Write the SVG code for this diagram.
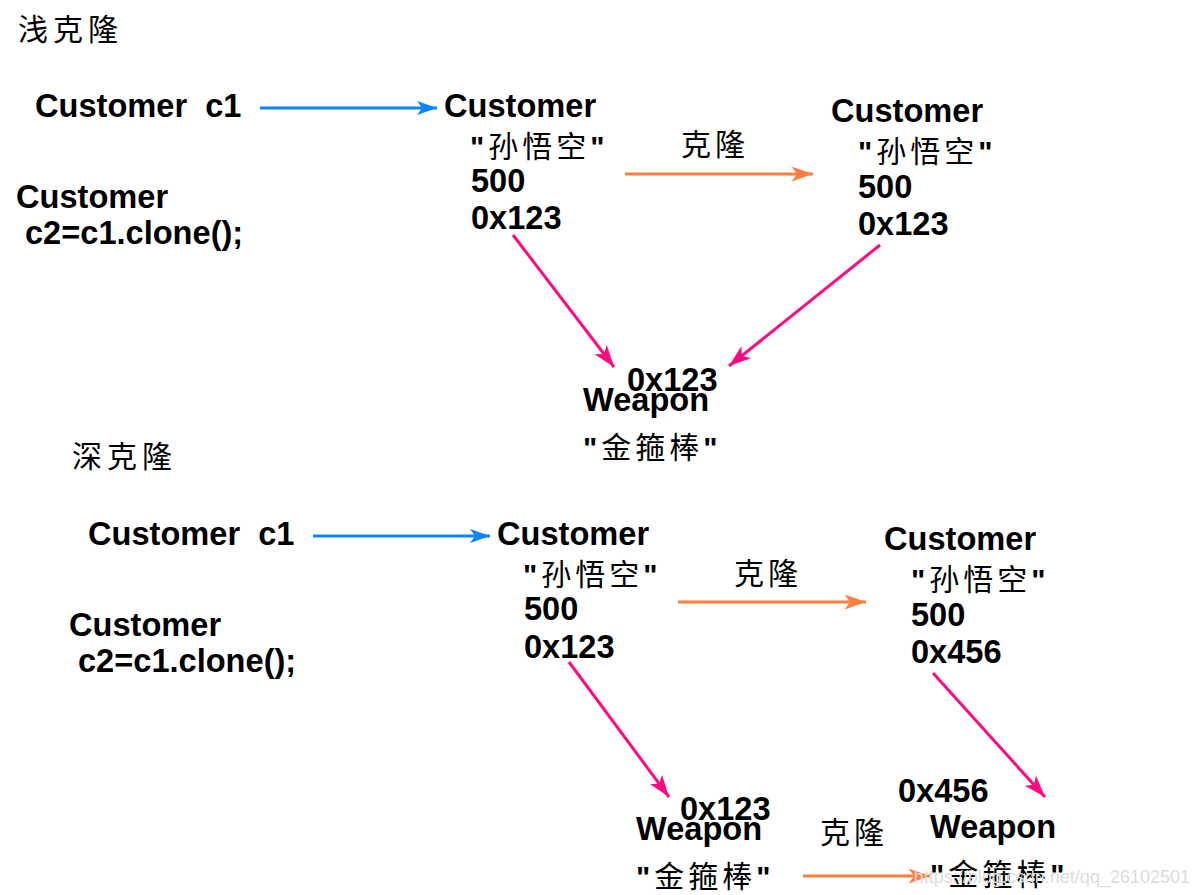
<svg xmlns="http://www.w3.org/2000/svg" width="1197" height="895" viewBox="0 0 1197 895">
<style>
.b{font-family:"Liberation Sans",Arial,sans-serif;font-weight:bold;font-size:32.6px;fill:#000}
.c{font-family:"Noto Sans CJK SC",sans-serif;font-size:30px;fill:#000;letter-spacing:4px}
.t{font-family:"Noto Sans CJK SC",sans-serif;font-size:30px;fill:#000;letter-spacing:5px}
.q{font-family:"Liberation Sans",Arial,sans-serif;font-weight:bold}
.blue{stroke:#0A84FF;stroke-width:3;fill:none}
.orange{stroke:#FF7F3F;stroke-width:3;fill:none}
.pink{stroke:#FF0A80;stroke-width:3;fill:none}
.wm{font-family:"Liberation Sans",Arial,sans-serif;font-size:18px;fill:#dcdcdc}
</style>
<defs>
<marker id="ab" viewBox="0 0 20 14" refX="20" refY="7" markerWidth="20" markerHeight="14" markerUnits="userSpaceOnUse" orient="auto"><path d="M0,0 L20,7 L0,14 L5,7 z" fill="#0A84FF"/></marker>
<marker id="ao" viewBox="0 0 20 14" refX="20" refY="7" markerWidth="22" markerHeight="15" markerUnits="userSpaceOnUse" orient="auto"><path d="M0,0 L20,7 L0,14 L5,7 z" fill="#FF7F3F"/></marker>
<marker id="ap" viewBox="0 0 20 14" refX="20" refY="7" markerWidth="22" markerHeight="16" markerUnits="userSpaceOnUse" orient="auto"><path d="M0,0 L20,7 L0,14 L5,7 z" fill="#FF0A80"/></marker>
</defs>
<rect width="1197" height="895" fill="#fff"/>

<g id="title-shallow"><text class="t" x="18" y="40">浅克隆</text></g>
<g id="c1-shallow"><text class="b" x="35" y="117" xml:space="preserve">Customer  c1</text></g>
<g id="c2-shallow"><text class="b" x="16" y="208">Customer</text><text class="b" x="25" y="244">c2=c1.clone();</text></g>
<g id="cust1-shallow">
<text class="b" x="444" y="117">Customer</text>
<text class="c" x="470" y="157"><tspan class="q">"</tspan>孙悟空<tspan class="q">"</tspan></text>
<text class="b" x="471" y="192">500</text>
<text class="b" x="471" y="229">0x123</text>
</g>
<g id="cust2-shallow">
<text class="b" x="831" y="122">Customer</text>
<text class="c" x="858" y="162"><tspan class="q">"</tspan>孙悟空<tspan class="q">"</tspan></text>
<text class="b" x="858" y="198">500</text>
<text class="b" x="858" y="235">0x123</text>
</g>
<g id="label-clone1"><text class="c" x="681" y="155">克隆</text></g>
<g id="weapon-shallow">
<text class="b" x="627" y="391">0x123</text>
<text class="b" x="583" y="411">Weapon</text>
<text class="c" x="583" y="458"><tspan class="q">"</tspan>金箍棒<tspan class="q">"</tspan></text>
</g>

<g id="title-deep"><text class="t" x="72" y="467">深克隆</text></g>
<g id="c1-deep"><text class="b" x="88" y="545" xml:space="preserve">Customer  c1</text></g>
<g id="c2-deep"><text class="b" x="69" y="636">Customer</text><text class="b" x="78" y="672">c2=c1.clone();</text></g>
<g id="cust1-deep">
<text class="b" x="497" y="545">Customer</text>
<text class="c" x="523" y="585"><tspan class="q">"</tspan>孙悟空<tspan class="q">"</tspan></text>
<text class="b" x="524" y="620">500</text>
<text class="b" x="524" y="658">0x123</text>
</g>
<g id="cust2-deep">
<text class="b" x="884" y="550">Customer</text>
<text class="c" x="911" y="590"><tspan class="q">"</tspan>孙悟空<tspan class="q">"</tspan></text>
<text class="b" x="911" y="626">500</text>
<text class="b" x="911" y="663">0x456</text>
</g>
<g id="label-clone2"><text class="c" x="734" y="584">克隆</text></g>
<g id="weapon1-deep">
<text class="b" x="680" y="820">0x123</text>
<text class="b" x="636" y="840">Weapon</text>
<text class="c" x="636" y="887"><tspan class="q">"</tspan>金箍棒<tspan class="q">"</tspan></text>
</g>
<g id="label-clone3"><text class="c" x="820" y="843">克隆</text></g>
<g id="weapon2-deep">
<text class="b" x="898" y="802">0x456</text>
<text class="b" x="930" y="838">Weapon</text>
<text class="c" x="930" y="885"><tspan class="q">"</tspan>金箍棒<tspan class="q">"</tspan></text>
</g>

<g id="connectors">
<line class="blue" x1="260" y1="108" x2="437" y2="108" marker-end="url(#ab)"/>
<line class="orange" x1="625" y1="174" x2="813" y2="174" marker-end="url(#ao)"/>
<line class="pink" x1="513" y1="235" x2="614" y2="367" marker-end="url(#ap)"/>
<line class="pink" x1="880" y1="245" x2="729" y2="366" marker-end="url(#ap)"/>
<line class="blue" x1="313" y1="536" x2="490" y2="536" marker-end="url(#ab)"/>
<line class="orange" x1="678" y1="602" x2="866" y2="602" marker-end="url(#ao)"/>
<line class="pink" x1="569" y1="662" x2="669" y2="797" marker-end="url(#ap)"/>
<line class="pink" x1="933" y1="673" x2="1045" y2="797" marker-end="url(#ap)"/>
<line class="orange" x1="803" y1="876" x2="930" y2="876" marker-end="url(#ao)"/>
</g>
<text class="wm" x="1190" y="883" text-anchor="end">https://blog.csdn.net/qq_26102501</text>
</svg>
